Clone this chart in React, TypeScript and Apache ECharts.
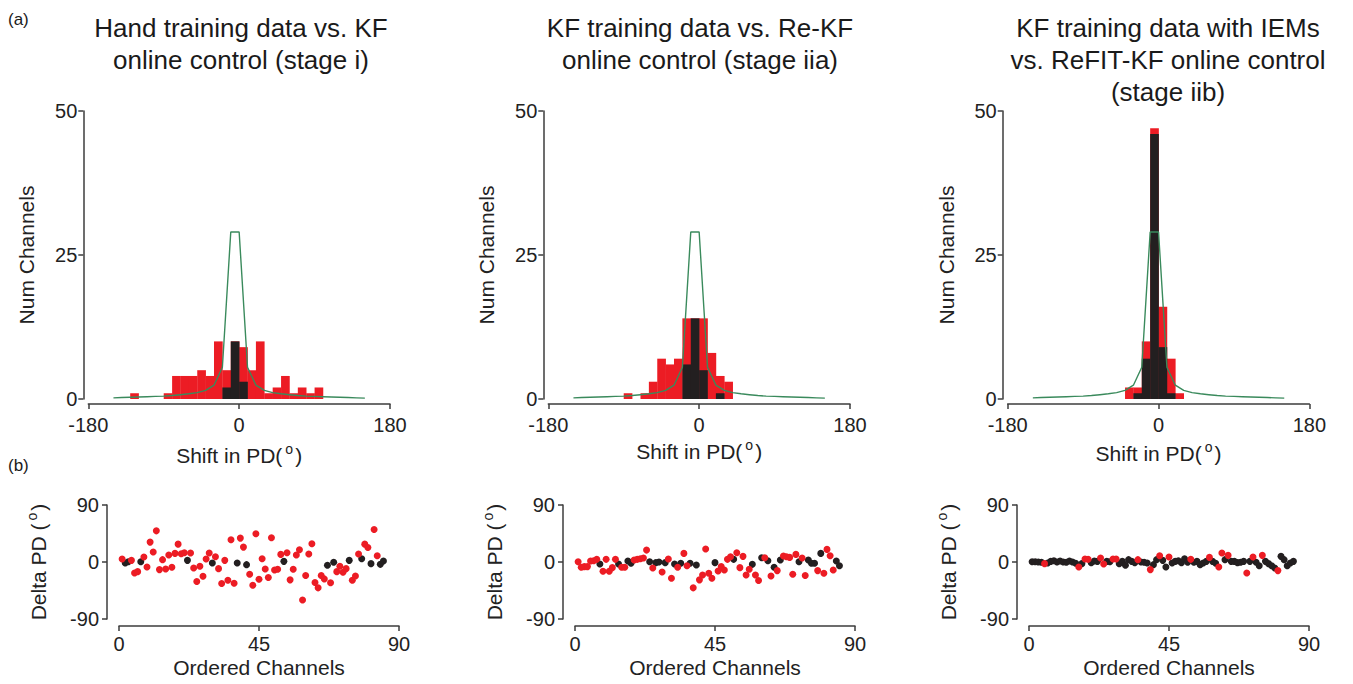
import React, { useEffect, useRef } from "react";
import * as echarts from "echarts";

const FONT = "'Liberation Sans', Arial, Helvetica, sans-serif";
const RED = "#ec1c24";
const BLACK = "#231f20";
const GREEN = "#3a8a5c";
const AXIS = "#3c3c3c";

// ---- histogram data: [binStart, count], bin width 10 deg ----
const BIN_W = 10;
const histRed1 = [[-130, 1], [-90, 1], [-80, 4], [-70, 4], [-60, 4], [-50, 5], [-40, 4], [-30, 10], [-20, 5], [-10, 10], [0, 9], [10, 5], [20, 10], [30, 1], [40, 2], [50, 4], [60, 1], [70, 2], [80, 1], [90, 2]];
const histBlack1 = [[-20, 2], [-10, 10], [0, 3]];
const histRed2 = [[-90, 1], [-70, 1], [-60, 3], [-50, 7], [-40, 6], [-30, 7], [-20, 14], [-10, 14], [0, 14], [10, 8], [20, 4], [30, 3]];
const histBlack2 = [[-20, 6], [-10, 14], [0, 5], [20, 1]];
const histRed3 = [[-40, 2], [-30, 2], [-20, 10], [-10, 47], [0, 16], [10, 7], [20, 1]];
const histBlack3 = [[-30, 1], [-20, 7], [-10, 46], [0, 9], [10, 1]];

// fitted curve (green)
const greenX = [-150, -140, -130, -120, -110, -100, -90, -80, -70, -60, -50, -40, -30, -20, -10, 0, 10, 20, 30, 40, 50, 60, 70, 80, 90, 100, 110, 120, 130, 140, 150];
const greenY = [0.2, 0.25, 0.3, 0.35, 0.4, 0.45, 0.5, 0.6, 0.75, 0.9, 1.1, 1.5, 2.4, 5.5, 29, 29, 5.5, 2.4, 1.5, 1.1, 0.9, 0.75, 0.6, 0.5, 0.45, 0.4, 0.35, 0.3, 0.25, 0.2, 0.15];

// ---- delta PD per ordered channel (1..85) ----
const delta1 = [
  4.7, -1.6, 0.5, 2.6, -17.3, -15.2, 0.5, 7.8, -7.8, 31.4,
  15.7, 49.2, -12.0, 3.7, -11.0, 11.0, -8.4, 13.6, 28.2, 13.1,
  14.6, 2.6, 14.1, -9.4, -30.9, -6.8, -22.5, 4.7, 14.1, -1.6,
  8.4, -10.5, -34.0, 2.6, -28.8, 35.0, -33.5, -1.6, 37.7, 23.5,
  -4.2, -19.4, -36.6, 44.5, -27.2, 5.2, -11.0, -24.6, 38.2, -12.6,
  -11.5, 12.0, 1.0, 14.6, -28.2, -11.5, 11.0, 19.4, -60.1, -21.4,
  12.6, 28.8, -32.4, -40.8, -21.4, -26.7, -5.2, -32.9, -0.5, -15.2,
  -6.8, -16.2, -10.5, 2.6, -28.8, -22.0, 12.6, 5.2, 28.2, 23.0,
  -2.6, 51.3, 9.9, -3.7, 1.6,
];
const black1 = [2, 3, 7, 22, 30, 38, 41, 53, 67, 69, 74, 78, 81, 84, 85];

const delta2 = [
  0.5, -8.4, -7.3, -7.3, 1.6, 2.1, 4.2, -3.1, -14.6, 4.2,
  -14.6, -8.9, 4.2, -3.1, -8.4, -8.4, 1.6, -2.1, 3.1, 4.2,
  5.2, 6.3, 18.8, 0.5, -9.4, -1.0, 0, -15.7, -1.0, 4.7,
  -25.6, -3.1, -8.4, -2.1, 13.6, -5.8, -2.1, -40.8, -4.7, -28.2,
  -20.4, 20.4, -17.8, -25.6, -1.0, -14.1, -7.3, -12.6, 4.2, 8.4,
  4.2, 14.6, -8.9, 8.9, -20.4, -11.5, -3.7, -20.4, -29.3, 6.8,
  6.8, 2.1, -22.0, -8.4, -13.6, 3.1, 9.4, 8.4, 7.3, -19.4,
  12.0, 0.5, 6.3, -21.4, 3.1, -2.1, -2.1, -13.6, 13.6, -17.8,
  19.9, 9.9, -12.6, 1.6, -5.8,
];
const black2 = [8, 14, 17, 18, 24, 26, 27, 29, 32, 34, 37, 39, 45, 51, 57, 60, 62, 64, 66, 72, 75, 76, 77, 79, 84, 85];

const delta3 = [
  0.5, 0.5, 0, -0.5, -2.6, -1.5, 1.0, 2.0, 0, 1.5,
  0, -0.5, 1.5, 0, -2.0, -7.8, -2.6, 4.7, 4.2, -1.0,
  1.5, 1.0, 6.3, -3.1, 1.0, 0.5, 4.7, 4.7, -2.6, 1.0,
  -5.2, 3.7, 1.0, -1.0, 3.7, 0, -0.5, -1.6, -12.0, -4.2,
  3.7, 9.9, 2.6, -7.8, 7.8, -1.6, 1.0, 2.1, -1.0, 5.2,
  -0.5, 4.2, -0.5, 1.0, -4.2, -1.6, 1.0, 7.3, 1.0, -2.0,
  -7.8, 14.1, 3.7, 10.5, 1.0, 1.0, -1.0, -0.5, 1.0, -17.3,
  1.0, 7.8, -0.5, -5.8, 10.5, 1.0, -2.6, -5.8, -9.4, -13.6,
  8.9, 3.7, -5.8, -1.6, 1.0,
];
const red3 = [5, 16, 18, 19, 23, 24, 27, 28, 35, 39, 42, 45, 52, 58, 61, 62, 64, 70, 72, 75, 80];
const black3 = delta3.map((_, i) => i + 1).filter((c) => red3.indexOf(c) < 0);

const histTicks = { min: -180, max: 180, interval: 180 };
const countTicks = { min: 0, max: 50, interval: 25 };
const chanTicks = { min: 0, max: 90, interval: 45 };
const deltaTicks = { min: -90, max: 90, interval: 90 };

const titles = [
  "Hand training data vs. KF\nonline control (stage i)",
  "KF training data vs. Re-KF\nonline control (stage iia)",
  "KF training data with IEMs\nvs. ReFIT-KF online control\n(stage iib)",
];

const panels = [
  { red: histRed1, black: histBlack1, delta: delta1, blackCh: black1 },
  { red: histRed2, black: histBlack2, delta: delta2, blackCh: black2 },
  { red: histRed3, black: histBlack3, delta: delta3, blackCh: black3 },
];

// layout (pixels)
const histLeft = [88.3, 548.3, 1007.7];
const histW = 301.7;
const scatLeft = [119, 575, 1029];
const scatW = 280;
const titleX = [241, 700, 1168];

function barRender(color: string) {
  return (params: any, api: any) => {
    const x0 = api.value(0);
    const x1 = api.value(1);
    const c = api.value(2);
    const p0 = api.coord([x0, c]);
    const p1 = api.coord([x1, 0]);
    return {
      type: "rect",
      shape: { x: p0[0], y: p0[1], width: p1[0] - p0[0] + 0.3, height: p1[1] - p0[1] },
      style: { fill: color },
    };
  };
}

const axisCommon = {
  axisLine: { show: true, onZero: false, lineStyle: { color: AXIS, width: 1.5 } },
  axisTick: { show: true, length: 5, lineStyle: { color: AXIS, width: 1.5 } },
  splitLine: { show: false },
  axisLabel: { color: "#222", fontSize: 20, fontFamily: FONT },
  nameTextStyle: {
    color: "#222",
    fontSize: 21,
    fontFamily: FONT,
    rich: { s: { fontSize: 14, fontFamily: FONT, color: "#222", padding: [0, 2, 13, 3] } },
  },
};

export default function App() {
  const ref = useRef<HTMLDivElement>(null);
  useEffect(() => {
    if (!ref.current) return;
    const chart = echarts.init(ref.current, undefined, { renderer: "svg" });
    const grid: any[] = [];
    const xAxis: any[] = [];
    const yAxis: any[] = [];
    const series: any[] = [];
    const graphic: any[] = [];

    panels.forEach((p, i) => {
      // histogram grid
      grid.push({ left: histLeft[i], top: 111, width: histW, height: 288 });
      const hx = xAxis.length;
      xAxis.push({
        ...axisCommon,
        type: "value",
        gridIndex: grid.length - 1,
        ...histTicks,
        offset: 5,
        axisLabel: { ...axisCommon.axisLabel, margin: 11 },
        name: "Shift in PD({s|o})",
        nameLocation: "middle",
        nameGap: [38, 34, 36][i],
      });
      yAxis.push({
        ...axisCommon,
        type: "value",
        gridIndex: grid.length - 1,
        ...countTicks,
        offset: 5,
        axisLabel: { ...axisCommon.axisLabel, margin: 6 },
        name: "Num Channels",
        nameLocation: "middle",
        nameGap: 46,
      });
      series.push({
        type: "custom",
        xAxisIndex: hx,
        yAxisIndex: hx,
        renderItem: barRender(RED),
        encode: { x: [0, 1], y: 2 },
        data: p.red.map(([s, c]) => [s, s + BIN_W, c]),
        z: 2,
      });
      series.push({
        type: "custom",
        xAxisIndex: hx,
        yAxisIndex: hx,
        renderItem: barRender(BLACK),
        encode: { x: [0, 1], y: 2 },
        data: p.black.map(([s, c]) => [s, s + BIN_W, c]),
        z: 3,
      });
      series.push({
        type: "line",
        xAxisIndex: hx,
        yAxisIndex: hx,
        data: greenX.map((x, k) => [x, greenY[k]]),
        showSymbol: false,
        symbol: "none",
        lineStyle: { color: GREEN, width: 1.4 },
        z: 4,
      });

      // scatter grid
      grid.push({ left: scatLeft[i], top: 505, width: scatW, height: 114 });
      const sx = xAxis.length;
      xAxis.push({
        ...axisCommon,
        type: "value",
        gridIndex: grid.length - 1,
        ...chanTicks,
        offset: 7,
        axisLabel: { ...axisCommon.axisLabel, margin: 8 },
        name: "Ordered Channels",
        nameLocation: "middle",
        nameGap: 31,
      });
      yAxis.push({
        ...axisCommon,
        type: "value",
        gridIndex: grid.length - 1,
        ...deltaTicks,
        offset: 12,
        axisLabel: { ...axisCommon.axisLabel, margin: 8 },
        name: "Delta PD ({s|o})",
        nameLocation: "middle",
        nameGap: 55,
      });
      const blackSet = new Set(p.blackCh);
      const blackPts: number[][] = [];
      const redPts: number[][] = [];
      p.delta.forEach((v, k) => {
        const ch = k + 1;
        if (blackSet.has(ch)) blackPts.push([ch, v]);
        else redPts.push([ch, v]);
      });
      series.push({
        type: "scatter",
        xAxisIndex: sx,
        yAxisIndex: sx,
        data: blackPts,
        symbolSize: 7,
        itemStyle: { color: BLACK, opacity: 1 },
        z: 3,
      });
      series.push({
        type: "scatter",
        xAxisIndex: sx,
        yAxisIndex: sx,
        data: redPts,
        symbolSize: 7,
        itemStyle: { color: RED, opacity: 1 },
        z: 4,
      });

      graphic.push({
        type: "text",
        x: titleX[i],
        y: 12,
        style: {
          text: titles[i],
          fontSize: 26,
          fontFamily: FONT,
          fill: "#1a1a1a",
          textAlign: "center",
          textVerticalAlign: "top",
          lineHeight: 32,
        },
      });
    });

    graphic.push({
      type: "text",
      x: 8,
      y: 11,
      style: { text: "(a)", fontSize: 17, fontFamily: FONT, fill: "#1a1a1a" },
    });
    graphic.push({
      type: "text",
      x: 8,
      y: 457,
      style: { text: "(b)", fontSize: 17, fontFamily: FONT, fill: "#1a1a1a" },
    });

    chart.setOption({
      animation: false,
      backgroundColor: "#ffffff",
      textStyle: { fontFamily: FONT },
      grid,
      xAxis,
      yAxis,
      series,
      graphic,
    });
    return () => chart.dispose();
  }, []);
  return (
    <div
      ref={ref}
      style={{ position: "fixed", left: 0, top: 0, width: 1353, height: 684, background: "#fff" }}
    />
  );
}
